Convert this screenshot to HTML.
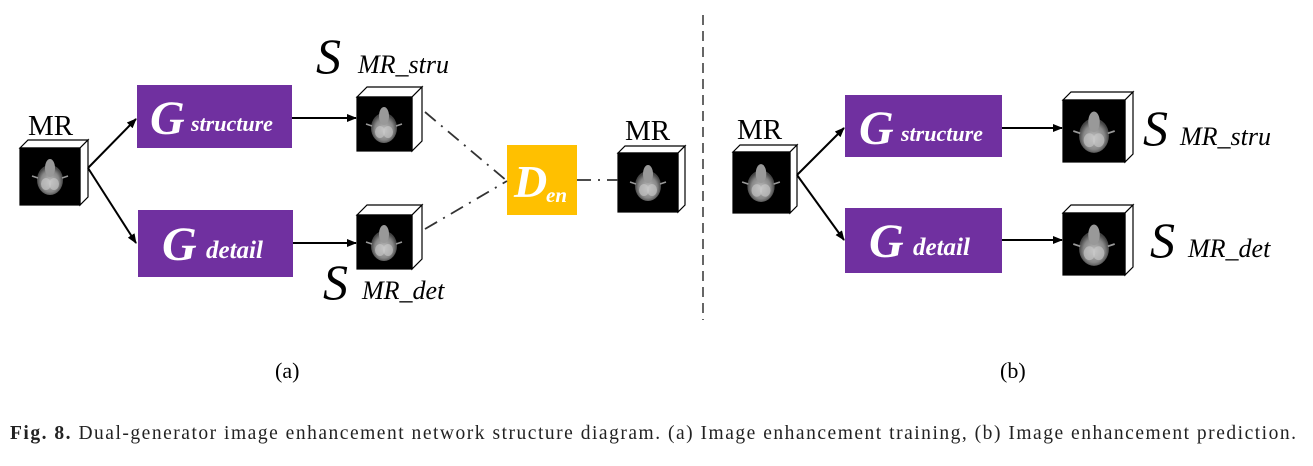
<!DOCTYPE html>
<html><head><meta charset="utf-8"><style>
html,body{margin:0;padding:0;background:#fff;}
body{width:1313px;height:466px;overflow:hidden;position:relative;}
</style></head><body>
<svg width="1313" height="466" viewBox="0 0 1313 466" xmlns="http://www.w3.org/2000/svg" style="position:absolute;left:0;top:0">
<defs>
<marker id="ar" markerWidth="10" markerHeight="8" refX="9" refY="4" orient="auto" markerUnits="userSpaceOnUse">
<path d="M0,0 L10,4 L0,8 Z" fill="#000"/></marker>
<radialGradient id="br" cx="50%" cy="55%" r="50%">
<stop offset="0" stop-color="#bbb"/><stop offset="0.7" stop-color="#888"/><stop offset="1" stop-color="#444"/></radialGradient>
<g id="brain">
<ellipse cx="0" cy="4" rx="13" ry="15" fill="url(#br)"/>
<ellipse cx="0" cy="-8" rx="5" ry="9" fill="#999"/>
<ellipse cx="-4" cy="8" rx="5" ry="6" fill="#ccc" opacity="0.6"/>
<ellipse cx="4" cy="8" rx="5" ry="6" fill="#ccc" opacity="0.6"/>
<path d="M-18,0 L-12,2 M18,0 L12,2" stroke="#999" stroke-width="1.5"/>
</g>
</defs>
<g stroke="#000" stroke-width="1.2">
<polygon points="20,148 28,140 88,140 80,148" fill="#fff"/>
<polygon points="80,148 88,140 88,197 80,205" fill="#fff"/>
<rect x="20" y="148" width="60" height="57" fill="#000"/>
<polygon points="357,97 367,87 422,87 412,97" fill="#fff"/>
<polygon points="412,97 422,87 422,141 412,151" fill="#fff"/>
<rect x="357" y="97" width="55" height="54" fill="#000"/>
<polygon points="357,215 367,205 422,205 412,215" fill="#fff"/>
<polygon points="412,215 422,205 422,259 412,269" fill="#fff"/>
<rect x="357" y="215" width="55" height="54" fill="#000"/>
<polygon points="618,153 625,146 685,146 678,153" fill="#fff"/>
<polygon points="678,153 685,146 685,205 678,212" fill="#fff"/>
<rect x="618" y="153" width="60" height="59" fill="#000"/>
<polygon points="733,152 740,145 797,145 790,152" fill="#fff"/>
<polygon points="790,152 797,145 797,206 790,213" fill="#fff"/>
<rect x="733" y="152" width="57" height="61" fill="#000"/>
<polygon points="1063,100 1071,92 1133,92 1125,100" fill="#fff"/>
<polygon points="1125,100 1133,92 1133,154 1125,162" fill="#fff"/>
<rect x="1063" y="100" width="62" height="62" fill="#000"/>
<polygon points="1063,213 1071,205 1133,205 1125,213" fill="#fff"/>
<polygon points="1125,213 1133,205 1133,267 1125,275" fill="#fff"/>
<rect x="1063" y="213" width="62" height="62" fill="#000"/>
</g>
<use href="#brain" transform="translate(50,176)"/>
<use href="#brain" transform="translate(384,124)"/>
<use href="#brain" transform="translate(384,242)"/>
<use href="#brain" transform="translate(648,182)"/>
<use href="#brain" transform="translate(761,182) scale(1.05)"/>
<use href="#brain" transform="translate(1094,131) scale(1.15)"/>
<use href="#brain" transform="translate(1094,244) scale(1.15)"/>
<rect x="137" y="85" width="155" height="63" fill="#7030A0"/>
<rect x="138" y="210" width="155" height="67" fill="#7030A0"/>
<rect x="507" y="145" width="70" height="70" fill="#FFC000"/>
<rect x="845" y="95" width="157" height="62" fill="#7030A0"/>
<rect x="845" y="208" width="157" height="65" fill="#7030A0"/>
<g stroke="#000" stroke-width="2" fill="none" marker-end="url(#ar)">
<line x1="88" y1="168" x2="136" y2="119"/>
<line x1="88" y1="168" x2="136" y2="243"/>
<line x1="292" y1="118" x2="356" y2="118"/>
<line x1="293" y1="243" x2="356" y2="243"/>
<line x1="797" y1="175" x2="844" y2="128"/>
<line x1="797" y1="175" x2="844" y2="240"/>
<line x1="1002" y1="128" x2="1062" y2="128"/>
<line x1="1002" y1="240" x2="1062" y2="240"/>
</g>
<g stroke="#333" stroke-width="1.8" fill="none" stroke-dasharray="14,7,2,7">
<line x1="425" y1="112" x2="507" y2="181"/>
<line x1="425" y1="229" x2="507" y2="181"/>
<line x1="577" y1="180" x2="618" y2="180"/>
</g>
<line x1="703" y1="15" x2="703" y2="320" stroke="#555" stroke-width="1.8" stroke-dasharray="10,6"/>
<g font-family="Liberation Serif, serif" fill="#000">
<text x="28" y="135" font-size="29">MR</text>
<text x="625" y="140" font-size="29">MR</text>
<text x="737" y="139" font-size="29">MR</text>
<text x="316" y="73" font-size="50" font-style="italic">S</text>
<text x="358" y="73" font-size="26" font-style="italic">MR_stru</text>
<text x="323" y="299" font-size="50" font-style="italic">S</text>
<text x="362" y="299" font-size="26" font-style="italic">MR_det</text>
<text x="1143" y="145" font-size="50" font-style="italic">S</text>
<text x="1180" y="145" font-size="26" font-style="italic">MR_stru</text>
<text x="1150" y="257" font-size="50" font-style="italic">S</text>
<text x="1188" y="257" font-size="26" font-style="italic">MR_det</text>
<text x="275" y="378" font-size="22">(a)</text>
<text x="1000" y="378" font-size="22">(b)</text>
</g>
<g font-family="Liberation Serif, serif" fill="#fff" font-weight="bold" font-style="italic">
<text x="150" y="134" font-size="48">G</text><text x="191" y="131" font-size="22">structure</text>
<text x="162" y="260" font-size="48">G</text><text x="206" y="258" font-size="25">detail</text>
<text x="514" y="197" font-size="46">D</text><text x="546" y="202" font-size="21">en</text>
<text x="859" y="144" font-size="48">G</text><text x="901" y="141" font-size="22">structure</text>
<text x="869" y="257" font-size="48">G</text><text x="913" y="255" font-size="25">detail</text>
</g>
<text x="10" y="439" font-family="Liberation Serif, serif" font-size="19.5" fill="#222" textLength="1286" lengthAdjust="spacing"><tspan font-weight="bold">Fig. 8.</tspan>  Dual-generator image enhancement network structure diagram. (a) Image enhancement training, (b) Image enhancement prediction.</text>
</svg>
</body></html>
